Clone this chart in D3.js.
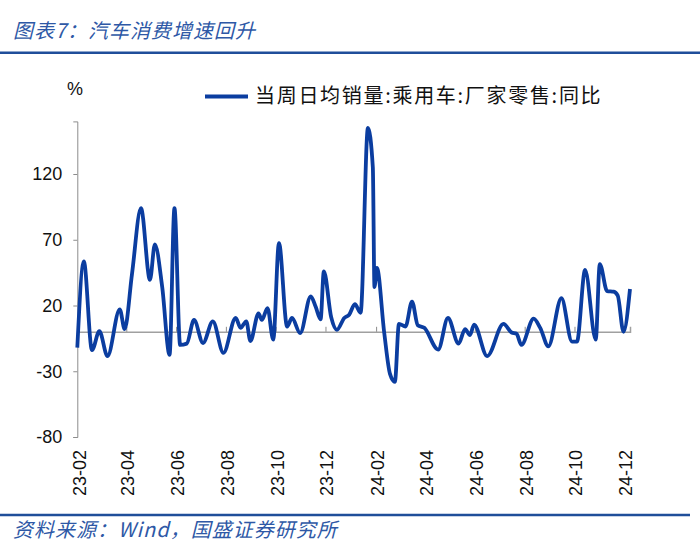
<!DOCTYPE html>
<html><head><meta charset="utf-8">
<script src="https://cdn.jsdelivr.net/npm/d3@7"></script>
<style>body{margin:0;background:#fff;} svg{display:block}</style>
</head><body>
<script>
// ---- data ----
const title = "图表7：汽车消费增速回升";
const source = "资料来源：Wind，国盛证券研究所";
const seriesName = "当周日均销量:乘用车:厂家零售:同比";
const unitLabel = "%";
const dates = [
 "2023-01-31","2023-02-08","2023-02-18","2023-02-27","2023-03-09","2023-03-24","2023-03-30",
 "2023-04-08","2023-04-19","2023-04-30","2023-05-06","2023-05-15","2023-05-24","2023-05-30",
 "2023-06-06","2023-06-14","2023-06-23","2023-07-04","2023-07-16","2023-07-29","2023-08-13",
 "2023-08-19","2023-08-26","2023-08-31","2023-09-10","2023-09-14","2023-09-21","2023-09-28",
 "2023-10-05","2023-10-15","2023-10-21","2023-10-31","2023-11-13","2023-11-19","2023-11-25",
 "2023-11-29","2023-12-08","2023-12-15","2023-12-24","2023-12-30","2024-01-06","2024-01-13",
 "2024-01-22","2024-01-28","2024-01-30","2024-02-02","2024-02-11","2024-02-18","2024-02-24",
 "2024-02-29","2024-03-08","2024-03-16","2024-03-23","2024-03-31","2024-04-17","2024-04-29",
 "2024-05-12","2024-05-20","2024-05-26","2024-05-31","2024-06-16","2024-07-06","2024-07-16",
 "2024-07-22","2024-07-28","2024-08-12","2024-08-20","2024-08-30","2024-09-15","2024-09-28",
 "2024-10-04","2024-10-14","2024-10-27","2024-11-01","2024-11-10","2024-11-18","2024-11-23",
 "2024-11-30","2024-12-08"
];
const values = [
 -12, 53.5, -14, 0.5, -18.5, 17, 2,
 44, 94, 39.5, 66.5, 34, -17.5, 94,
 -10, -9, 9, -8.5, 8, -16, 10.5,
 3, 8, -7, 14, 9, 18, -6,
 67.5, 4, 10.5, -1, 27, 19, 9.5,
 46, 11, 1.5, 10.5, 13, 21, 14.5,
 155, 125, 34, 48.5, -1, -32, -38,
 6, 4, 23, 5, 3, -13.5, 10.5,
 -9, 2, -2.5, 5.5, -18.5, 6, -0.5,
 -1.5, -10, 10, 3, -11, 25.5, -7.5,
 -7.5, 47, -6, 51.5, 31, 30.5, 27.5,
 0, 32.5
];
const yTicks = [-80, -30, 20, 70, 120];
const yDomain = [-80, 160];
const xTickLabels = ["23-02","23-04","23-06","23-08","23-10","23-12","24-02","24-04","24-06","24-08","24-10","24-12"];

// ---- drawing ----
const W = 700, H = 557;
const blue = "#0B3DA0";
const ruleBlue = "#1F4E9A";
const axisGray = "#8c8c8c";
const parse = d3.timeParse("%Y-%m-%d");
const data = dates.map((d, i) => ({date: parse(d), value: values[i]}));

const svg = d3.select("body").append("svg").attr("width", W).attr("height", H);

const x = d3.scaleTime().domain(d3.extent(data, d => d.date)).range([77.3, 630]);
const y = d3.scaleLinear().domain(yDomain).range([437, 121.4]);

// title & rules
svg.append("text").attr("x", 13).attr("y", 38)
  .attr("font-family", "'Noto Sans CJK SC', sans-serif").attr("font-size", 20)
  .attr("font-style", "italic").attr("letter-spacing", 1).attr("fill", "#2E58A6").text(title);
svg.append("line").attr("x1", 0).attr("x2", W).attr("y1", 52.7).attr("y2", 52.7)
  .attr("stroke", ruleBlue).attr("stroke-width", 2.5);
svg.append("line").attr("x1", 0).attr("x2", 690).attr("y1", 515).attr("y2", 515)
  .attr("stroke", ruleBlue).attr("stroke-width", 2.5);
svg.append("text").attr("x", 13).attr("y", 537)
  .attr("font-family", "'Noto Sans CJK SC', sans-serif").attr("font-size", 20)
  .attr("letter-spacing", 1)
  .attr("font-style", "italic").attr("fill", "#2E58A6").text(source);

// unit label
svg.append("text").attr("x", 75).attr("y", 95).attr("text-anchor", "middle")
  .attr("font-family", "'Liberation Sans', Arial, sans-serif").attr("font-size", 18)
  .attr("fill", "#111").text(unitLabel);

// legend
svg.append("line").attr("x1", 205).attr("x2", 248).attr("y1", 96.5).attr("y2", 96.5)
  .attr("stroke", blue).attr("stroke-width", 4);
svg.append("text").attr("x", 255).attr("y", 103)
  .attr("font-family", "'Noto Sans CJK SC', sans-serif").attr("font-size", 20)
  .attr("letter-spacing", 1.7).attr("fill", "#111").text(seriesName);

// y axis
const yAxis = d3.axisLeft(y).tickValues(yTicks).tickSize(4).tickPadding(11)
  .tickFormat(d => String(d));
const gy = svg.append("g").attr("transform", "translate(77.3,0)").call(yAxis);
gy.select(".domain").attr("stroke", axisGray);
gy.selectAll(".tick line").attr("stroke", axisGray);
gy.selectAll(".tick text").attr("font-family", "'Liberation Sans', Arial, sans-serif")
  .attr("font-size", 18).attr("fill", "#111");

// zero line (x axis) with upward ticks
const tickDates = xTickLabels.map(l => parse("20" + l + "-01"));
const xAxis = d3.axisTop(x).tickValues(tickDates).tickSize(5).tickFormat("");
const gx = svg.append("g").attr("transform", `translate(0,${y(0)})`).call(xAxis);
gx.select(".domain").attr("stroke", "#a0a0a0").attr("stroke-width", 1.5);
gx.selectAll(".tick line").attr("stroke", axisGray);

// x labels (rotated) at the bottom
svg.append("g").selectAll("text").data(tickDates).join("text")
  .attr("transform", d => `translate(${x(d) + 2},473) rotate(-90)`)
  .attr("text-anchor", "middle").attr("dominant-baseline", "central")
  .attr("font-family", "'Liberation Sans', Arial, sans-serif").attr("font-size", 18)
  .attr("fill", "#111").text((d, i) => xTickLabels[i]);

// series line
const line = d3.line().x(d => x(d.date)).y(d => y(d.value)).curve(d3.curveMonotoneX);
svg.append("path").datum(data).attr("d", line).attr("fill", "none")
  .attr("stroke", blue).attr("stroke-width", 3.8).attr("stroke-linejoin", "round");
</script>
</body></html>
